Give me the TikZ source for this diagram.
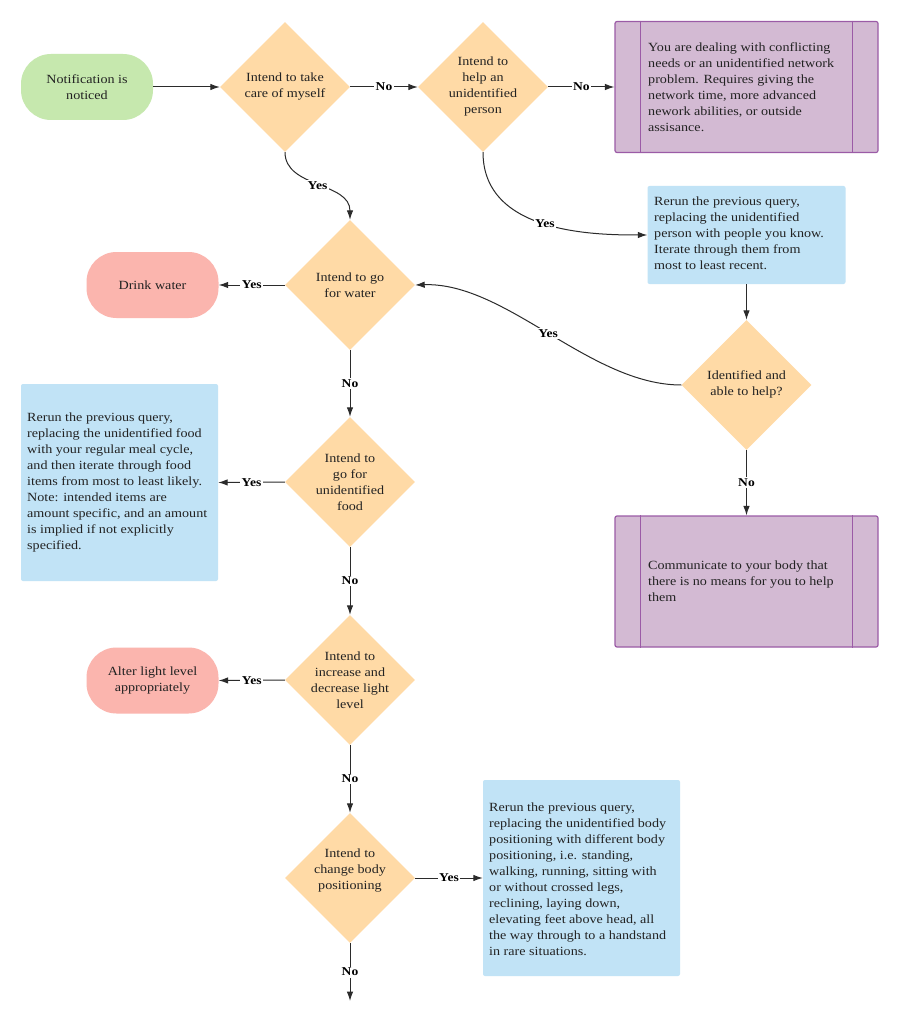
\documentclass[tikz,border=0pt]{standalone}
\usepackage{fontspec}
\setmainfont{Liberation Serif}[FakeStretch=1.13]
\usetikzlibrary{shapes.geometric,arrows.meta}
\definecolor{cgreen}{HTML}{C6E8AE}
\definecolor{corange}{HTML}{FFDAA6}
\definecolor{cblue}{HTML}{C1E3F6}
\definecolor{cpink}{HTML}{FBB5AE}
\definecolor{cpurple}{HTML}{D3BAD3}
\definecolor{cpurpleline}{HTML}{9B5BA6}
\definecolor{cline}{HTML}{2B2B2B}
\definecolor{ctext}{HTML}{222222}
\tikzset{
  txt/.style={inner sep=0pt, align=left, text=ctext, font=\fontsize{12.5}{16}\selectfont},
  ctxt/.style={inner sep=0pt, align=center, text=ctext, font=\fontsize{12.5}{16}\selectfont},
  dia/.style={diamond, fill=corange, draw=none, minimum width=130pt, minimum height=130pt, inner sep=0pt},
  pill/.style={rectangle, rounded corners=30pt, draw=none, minimum width=132pt, minimum height=66pt, inner sep=0pt},
  bluebox/.style={rectangle, rounded corners=2pt, fill=cblue, draw=none, inner sep=0pt},
  purplebox/.style={rectangle, rounded corners=2pt, fill=cpurple, draw=cpurpleline, line width=1.2pt, minimum width=263pt, minimum height=131pt, inner sep=0pt},
  conn/.style={draw=cline, line width=1pt, -{Latex[length=9.5pt,width=6.5pt]}},
  lbl/.style={fill=white, inner sep=1.5pt, text=black, font=\bfseries\fontsize{12}{14}\selectfont},
}
\begin{document}
\begin{tikzpicture}[x=1pt,y=-1pt]
\useasboundingbox (0,0) rectangle (900,1032);
\fill[white] (0,0) rectangle (900,1032);

% start
\node[pill, fill=cgreen, ctxt] (start) at (87,87) {};
\node[ctxt] (startt) at (start) {Notification is\\noticed};

% diamonds
\node[dia] (d1) at (285,87) {};
\node[ctxt] (d1t) at (285,87) {Intend to take\\care of myself};
\node[dia] (d2) at (483,87) {};
\node[ctxt] (d2t) at (483,86) {Intend to\\help an\\unidentified\\person};
\node[dia] (dw) at (350,285) {};
\node[ctxt] (dwt) at (350,285) {Intend to go\\for water};
\node[dia] (df) at (350,482) {};
\node[ctxt] (dft) at (350,482) {Intend to\\go for\\unidentified\\food};
\node[dia] (dl) at (350,680) {};
\node[ctxt] (dlt) at (350,680) {Intend to\\increase and\\decrease light\\level};
\node[dia] (db) at (350,878) {};
\node[ctxt] (dbt) at (350,871) {Intend to\\change body\\positioning};
\node[dia] (di) at (746.5,385) {};
\node[ctxt] (dit) at (746.5,384) {Identified and\\able to help?};

% purple boxes
\node[purplebox] (p1) at (746.5,87) {};
\draw[cpurpleline, line width=1.2pt] ([xshift=26pt]p1.north west) -- ([xshift=26pt]p1.south west);
\draw[cpurpleline, line width=1.2pt] ([xshift=-26pt]p1.north east) -- ([xshift=-26pt]p1.south east);
\node[txt, anchor=west] (p1t) at (648,87) {You are dealing with conflicting\\needs or an unidentified network\\problem. Requires giving the\\network time, more advanced\\nework abilities, or outside\\assisance.};

\node[purplebox] (p2) at (746.5,581.5) {};
\draw[cpurpleline, line width=1.2pt] ([xshift=26pt]p2.north west) -- ([xshift=26pt]p2.south west);
\draw[cpurpleline, line width=1.2pt] ([xshift=-26pt]p2.north east) -- ([xshift=-26pt]p2.south east);
\node[txt, anchor=west] (p2t) at (648,581) {Communicate to your body that\\there is no means for you to help\\them};

% blue boxes
\node[bluebox, minimum width=198pt, minimum height=98pt] (b1) at (746.5,235) {};
\node[txt, anchor=west] (b1t) at (654,233) {Rerun the previous query,\\replacing the unidentified\\person with people you know.\\Iterate through them from\\most to least recent.};
\node[bluebox, minimum width=197pt, minimum height=197pt] (b2) at (119.5,482.5) {};
\node[txt, anchor=west] (b2t) at (27,482) {Rerun the previous query,\\replacing the unidentified food\\with your regular meal cycle,\\and then iterate through food\\items from most to least likely.\\Note: intended items are\\amount specific, and an amount\\is implied if not explicitly\\specified.};
\node[bluebox, minimum width=197pt, minimum height=196pt] (b3) at (581.5,878) {};
\node[txt, anchor=west] (b3t) at (489,879) {Rerun the previous query,\\replacing the unidentified body\\positioning with different body\\positioning, i.e. standing,\\walking, running, sitting with\\or without crossed legs,\\reclining, laying down,\\elevating feet above head, all\\the way through to a handstand\\in rare situations.};

% terminal pills
\node[pill, fill=cpink] (water) at (152.5,285) {};
\node[ctxt] (watert) at (water) {Drink water};
\node[pill, fill=cpink] (light) at (152.5,680.5) {};
\node[ctxt] (lightt) at (light) {Alter light level\\appropriately};

\coordinate (endpt) at (350,1001);

% connectors
\draw[conn] (start.east) -- (d1.west);
\draw[conn] (d1.east) -- node[lbl] {No} (d2.west);
\draw[conn] (d2.east) -- node[lbl] {No} (p1.west);
\draw[conn] (d1.south) .. controls (285,188) and (350,182) .. node[lbl, pos=0.5] {Yes} (dw.north);
\draw[conn] (d2.south) .. controls (483,233) and (593,235) .. node[lbl, pos=0.5] {Yes} (b1.west);
\draw[conn] (b1.south) -- (di.north);
\draw[conn] (di.west) .. controls (590,385) and (506,282) .. node[lbl, pos=0.5] {Yes} (dw.east);
\draw[conn] (di.south) -- node[lbl] {No} (p2.north);
\draw[conn] (dw.west) -- node[lbl] {Yes} (water.east);
\draw[conn] (dw.south) -- node[lbl] {No} (df.north);
\draw[conn] (df.west) -- node[lbl] {Yes} (b2.east);
\draw[conn] (df.south) -- node[lbl] {No} (dl.north);
\draw[conn] (dl.west) -- node[lbl] {Yes} (light.east);
\draw[conn] (dl.south) -- node[lbl] {No} (db.north);
\draw[conn] (db.east) -- node[lbl] {Yes} (b3.west);
\draw[conn] (db.south) -- node[lbl] {No} (endpt);
\end{tikzpicture}
\end{document}
